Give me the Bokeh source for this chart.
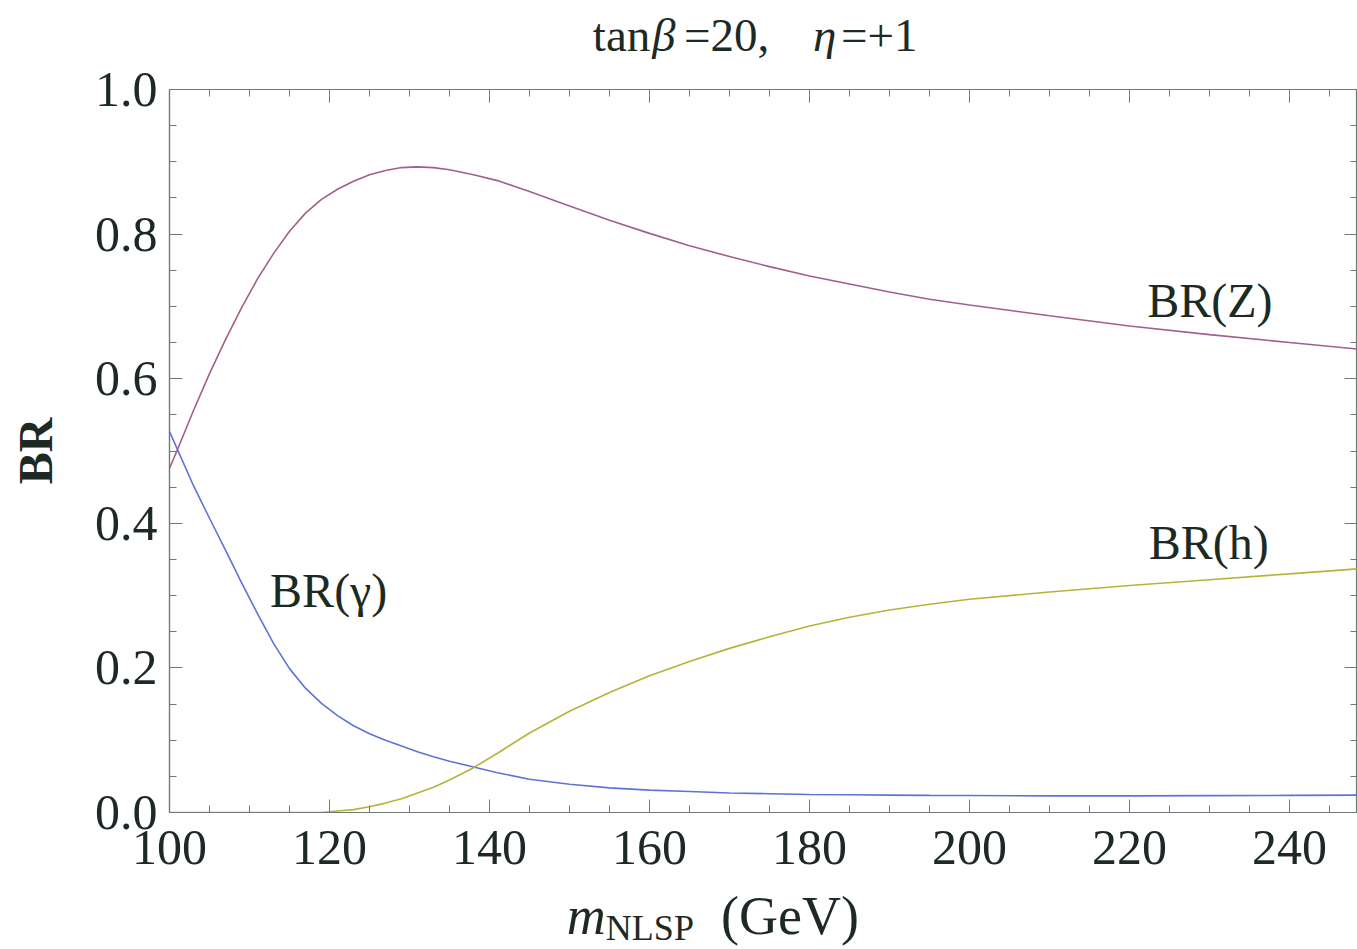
from bokeh.plotting import figure
from bokeh.layouts import column
from bokeh.models import (Range1d, FixedTicker, PrintfTickFormatter, LinearAxis, Label,
                          CustomJSTickFormatter)
from bokeh.core.properties import value
from bokeh.embed import file_html
from bokeh.resources import INLINE

# NLSP mass (GeV)
m_nlsp = [100, 101, 103, 105, 107, 109, 111, 113, 115, 117, 119,
          121, 123, 125, 127, 129, 131, 133, 135,
          138, 141, 145,
          150, 155, 160, 165, 170, 175, 180, 185, 190, 195, 200,
          210, 220, 230, 240, 248.5]

# branching ratios of the NLSP
br_z = [0.476, 0.502, 0.556, 0.607, 0.654, 0.698, 0.738, 0.773, 0.804, 0.829, 0.848,
        0.862, 0.873, 0.882, 0.888, 0.892, 0.893, 0.892, 0.889,
        0.882, 0.874, 0.859,
        0.839, 0.819, 0.801, 0.784, 0.769, 0.755, 0.742, 0.731, 0.720, 0.710, 0.702,
        0.687, 0.673, 0.661, 0.650, 0.641]
br_gamma = [0.527, 0.502, 0.452, 0.407, 0.363, 0.318, 0.275, 0.234, 0.199, 0.172, 0.151,
            0.134, 0.120, 0.109, 0.100, 0.092, 0.084, 0.077, 0.071,
            0.063, 0.055, 0.046,
            0.039, 0.034, 0.031, 0.029, 0.027, 0.026, 0.025, 0.0245, 0.024, 0.0237, 0.0235,
            0.023, 0.023, 0.0233, 0.0237, 0.024]
br_h = [0.0, 0.0, 0.0, 0.0, 0.0, 0.0, 0.0, 0.0, 0.0, 0.0, 0.0,
        0.002, 0.004, 0.008, 0.013, 0.019, 0.027, 0.035, 0.045,
        0.062, 0.082, 0.110,
        0.140, 0.166, 0.189, 0.209, 0.227, 0.243, 0.258, 0.270, 0.280, 0.288, 0.295,
        0.305, 0.314, 0.322, 0.330, 0.337]

x_ticks = [100, 120, 140, 160, 180, 200, 220, 240]
x_minor = list(range(100, 250, 5))
y_ticks = [0.0, 0.2, 0.4, 0.6, 0.8, 1.0]
y_minor = [round(i * 0.05, 2) for i in range(21)]

SERIF = "Liberation Serif"
FRAME = "#6f7a74"
INK = "#1d2a24"
W = 1357
LEFT = 169          # left border of the plot frame, px
RIGHT = 1356        # right edge of the plot frame, px


def strip(height):
    """Text-only band aligned with the plot frame, in pixel units."""
    f = figure(width=W, height=height, x_range=Range1d(LEFT, RIGHT),
               y_range=Range1d(0, height), x_axis_type=None, y_axis_type=None,
               toolbar_location=None, output_backend="svg", min_border=0)
    f.outline_line_color = None
    f.xgrid.visible = False
    f.ygrid.visible = False
    return f


# ---- title: tanβ=20, η=+1 -------------------------------------------------
head = strip(59)
for txt, tx, style in [("tan", 592, "normal"), ("\u03b2", 651, "italic"),
                       ("=20,", 683, "normal"), ("\u03b7", 812, "italic"),
                       ("=+1", 840, "normal")]:
    head.text(x=[tx], y=[25], text=[txt], text_font=value(SERIF),
              text_font_size=value("47px"), text_font_style=style,
              text_color=INK, text_align="left", text_baseline="alphabetic")

# ---- main plot ------------------------------------------------------------
p = figure(width=W, height=821, x_range=Range1d(100, 248.5),
           y_range=Range1d(0, 1), output_backend="svg",
           toolbar_location=None, min_border_left=LEFT, min_border_right=0,
           min_border_top=30, min_border_bottom=68)
p.background_fill_color = "white"
p.border_fill_color = "white"
p.outline_line_color = FRAME
p.outline_line_width = 1.2
p.xgrid.visible = False
p.ygrid.visible = False


def style_axis(ax, show_labels):
    ax.axis_line_color = FRAME
    ax.axis_line_width = 1.2
    ax.major_tick_line_color = FRAME
    ax.minor_tick_line_color = FRAME
    ax.major_tick_in = 13
    ax.major_tick_out = 0
    ax.minor_tick_in = 7
    ax.minor_tick_out = 0
    if show_labels:
        ax.major_label_text_font = SERIF
        ax.major_label_text_font_size = "50px"
        ax.major_label_text_color = INK
    else:
        # tick marks only on the top and right edges of the frame
        ax.formatter = CustomJSTickFormatter(code="return ''")
        ax.major_label_text_font_size = "0px"
        ax.major_label_standoff = 0


p.xaxis.ticker = FixedTicker(ticks=x_ticks, minor_ticks=x_minor)
p.yaxis.ticker = FixedTicker(ticks=y_ticks, minor_ticks=y_minor)
p.yaxis.formatter = PrintfTickFormatter(format="%.1f")
style_axis(p.xaxis[0], True)
style_axis(p.yaxis[0], True)
p.xaxis.major_label_standoff = 18
p.yaxis.major_label_standoff = 12
p.yaxis.axis_label = "BR"
p.yaxis.axis_label_text_font = SERIF
p.yaxis.axis_label_text_font_style = "bold"
p.yaxis.axis_label_text_font_size = "48px"
p.yaxis.axis_label_text_color = INK
p.yaxis.axis_label_standoff = 30

top = LinearAxis(ticker=FixedTicker(ticks=x_ticks, minor_ticks=x_minor))
style_axis(top, False)
p.add_layout(top, "above")
right = LinearAxis(ticker=FixedTicker(ticks=y_ticks, minor_ticks=y_minor))
style_axis(right, False)
p.add_layout(right, "right")

p.line(m_nlsp, br_z, line_color="#a0608c", line_width=1.6)
p.line(m_nlsp, br_gamma, line_color="#5f73d6", line_width=1.6)
p.line(m_nlsp, br_h, line_color="#b4b43a", line_width=1.6)

for txt, lx, ly in [("BR(Z)", 230.05, 0.708), ("BR(h)", 229.9, 0.373),
                    ("BR(\u03b3)", 119.9, 0.307)]:
    p.add_layout(Label(x=lx, y=ly, text=txt, text_font=SERIF,
                       text_font_size="48px", text_color=INK,
                       text_align="center", text_baseline="alphabetic"))

# ---- x-axis title: m_NLSP (GeV) -------------------------------------------
foot = strip(69)
foot.text(x=[566], y=[34], text=["m"], text_font=value(SERIF),
          text_font_size=value("54px"), text_font_style="italic",
          text_color=INK, text_align="left", text_baseline="alphabetic")
foot.text(x=[605], y=[22], text=["NLSP"], text_font=value(SERIF),
          text_font_size=value("36px"), text_color=INK, text_align="left",
          text_baseline="alphabetic")
foot.text(x=[720], y=[34], text=["(GeV)"], text_font=value(SERIF),
          text_font_size=value("54px"), text_color=INK, text_align="left",
          text_baseline="alphabetic")

open("out.html", "w").write(file_html(column(head, p, foot, spacing=0), INLINE))
